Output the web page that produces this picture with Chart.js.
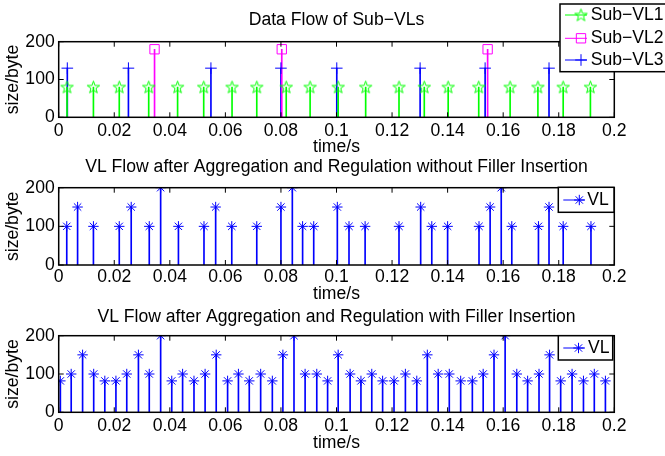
<!DOCTYPE html>
<html>
<head>
<meta charset="utf-8">
<script src="https://cdn.jsdelivr.net/npm/chart.js@4.4.1/dist/chart.umd.min.js"></script>
<style>
  html, body { margin: 0; padding: 0; background: #fff; }
  #wrap { position: relative; width: 665px; height: 456px; }
  #wrap canvas { position: absolute; left: 0; top: 0; }
</style>
</head>
<body>
<div id="wrap">
  <canvas id="c1" width="665" height="456"></canvas>
  <canvas id="c2" width="665" height="456"></canvas>
  <canvas id="c3" width="665" height="456"></canvas>
</div>
<script>
const xTicks = [0, 0.02, 0.04, 0.06, 0.08, 0.1, 0.12, 0.14, 0.16, 0.18, 0.2];
const xTickLabels = ["0", "0.02", "0.04", "0.06", "0.08", "0.1", "0.12", "0.14", "0.16", "0.18", "0.2"];
const yTicks = [0, 100, 200];

// top panel: the three sub-VLs (time in s, size in byte)
const subVL1Time = [0.003, 0.0125, 0.0218, 0.0324, 0.0428, 0.0522, 0.0624, 0.0713, 0.0819, 0.0905,
                    0.1006, 0.1105, 0.1225, 0.1316, 0.1402, 0.1512, 0.1625, 0.1725, 0.1816, 0.1914];
const subVL1Size = [80, 80, 80, 80, 80, 80, 80, 80, 80, 80, 80, 80, 80, 80, 80, 80, 80, 80, 80, 80];
const subVL2Time = [0.0345, 0.0803, 0.1544];
const subVL2Size = [180, 180, 180];
const subVL3Time = [0.0031, 0.0251, 0.0548, 0.080, 0.1001, 0.1301, 0.1535, 0.1765];
const subVL3Size = [130, 130, 130, 130, 130, 130, 130, 130];

// middle panel: aggregated VL without filler
const aggTime = [0.0029, 0.0068, 0.0125, 0.0218, 0.0261, 0.0326, 0.0367, 0.0431, 0.0523, 0.0565,
                 0.0623, 0.0713, 0.0800, 0.0841, 0.0878, 0.0918, 0.1003, 0.1045, 0.1103, 0.1225,
                 0.1303, 0.1343, 0.1400, 0.1513, 0.1553, 0.1593, 0.1631, 0.1727, 0.1765, 0.1816, 0.1916];
const aggSize = [100, 150, 100, 100, 150, 100, 200, 100, 100, 150,
                 100, 100, 150, 200, 100, 100, 150, 100, 100, 100,
                 150, 100, 100, 100, 150, 200, 100, 100, 150, 100, 100];

// bottom panel: aggregated VL with filler
const fillTime = [0.0006, 0.0045, 0.0086, 0.0126, 0.0166, 0.0206, 0.0245, 0.0287, 0.0326, 0.0367,
                  0.0407, 0.0446, 0.0487, 0.0527, 0.0567, 0.0608, 0.0647, 0.0686, 0.0727, 0.0769,
                  0.0807, 0.0847, 0.0887, 0.0929, 0.0968, 0.1006, 0.1049, 0.1088, 0.1127, 0.1166,
                  0.1207, 0.1248, 0.1289, 0.1327, 0.1366, 0.1406, 0.1447, 0.1489, 0.1528, 0.1567,
                  0.1607, 0.1649, 0.1688, 0.1729, 0.1767, 0.1807, 0.1848, 0.1889, 0.1928, 0.1968];
const fillSize = [82, 100, 150, 100, 82, 82, 100, 150, 100, 200,
                  82, 100, 82, 100, 150, 82, 100, 82, 100, 82,
                  150, 200, 100, 100, 82, 150, 100, 82, 100, 82,
                  82, 100, 82, 150, 100, 100, 82, 82, 100, 150,
                  200, 100, 82, 100, 150, 82, 100, 82, 100, 82];

const FONT = "'Liberation Sans', Arial, Helvetica, sans-serif";
const FS = 17.6;
Chart.defaults.font.family = FONT;
Chart.defaults.font.size = FS;
Chart.defaults.color = "#000";

function pts(t, v) {
  return t.map((x, i) => ({ x: x, y: v[i] }));
}

// hollow pentagram, matlab 'p' marker
function pentagram(color) {
  const c = document.createElement("canvas");
  c.width = 15; c.height = 15;
  const g = c.getContext("2d");
  g.strokeStyle = color;
  g.lineWidth = 1;
  g.beginPath();
  for (let i = 0; i < 10; i++) {
    const r = i % 2 ? 2.6 : 6.5;
    const a = -Math.PI / 2 + i * Math.PI / 5;
    const px = 7.5 + r * Math.cos(a), py = 8 + r * Math.sin(a);
    if (i) g.lineTo(px, py); else g.moveTo(px, py);
  }
  g.closePath();
  g.stroke();
  return c;
}

function stems(t, v, color) {
  return { type: "bar", data: pts(t, v), backgroundColor: color, borderWidth: 0,
           barThickness: 1, grouped: false, order: 2 };
}
function marks(label, t, v, color, style, r) {
  return { type: "scatter", label: label, data: pts(t, v), showLine: false, order: 1,
           pointStyle: style, pointRadius: r, pointBorderColor: color,
           pointBackgroundColor: "rgba(0,0,0,0)", pointBorderWidth: 1 };
}

// axes box with inward ticks
const boxPlugin = {
  id: "matBox",
  afterDatasetsDraw(chart) {
    const { ctx, chartArea: a, scales } = chart;
    ctx.save();
    ctx.strokeStyle = "#000";
    ctx.lineWidth = 1;
    ctx.beginPath();
    xTicks.forEach(v => {
      const px = scales.x.getPixelForValue(v);
      ctx.moveTo(px, a.bottom); ctx.lineTo(px, a.bottom - 5);
      ctx.moveTo(px, a.top); ctx.lineTo(px, a.top + 5);
    });
    yTicks.forEach(v => {
      const py = scales.y.getPixelForValue(v);
      ctx.moveTo(a.left, py); ctx.lineTo(a.left + 5, py);
      ctx.moveTo(a.right, py); ctx.lineTo(a.right - 5, py);
    });
    ctx.stroke();
    ctx.lineWidth = 1.5;
    ctx.strokeRect(a.left, a.top, a.right - a.left, a.bottom - a.top);
    ctx.restore();
  }
};

const legendPlugin = {
  id: "matLegend",
  afterDraw(chart, args, opts) {
    if (!opts.box) return;
    const ctx = chart.ctx;
    const [l, t, r, b] = opts.box;
    ctx.save();
    ctx.fillStyle = "#fff";
    ctx.fillRect(l, t, r - l, b - t);
    ctx.strokeStyle = "#000";
    ctx.lineWidth = 1.5;
    ctx.strokeRect(l, t, r - l, b - t);
    ctx.font = FS + "px " + FONT;
    ctx.textBaseline = "middle";
    opts.rows.forEach(row => {
      const ds = chart.data.datasets[row.dataset];
      ctx.strokeStyle = ds.pointBorderColor;
      ctx.lineWidth = 1;
      ctx.beginPath();
      ctx.moveTo(opts.lineX[0], row.y);
      ctx.lineTo(opts.lineX[1], row.y);
      ctx.stroke();
      ctx.fillStyle = "rgba(0,0,0,0)";
      Chart.helpers.drawPoint(ctx, { pointStyle: ds.pointStyle, radius: ds.pointRadius,
        borderWidth: 1, rotation: 0 }, opts.markerX, row.y);
      ctx.fillStyle = "#000";
      ctx.fillText(ds.label, opts.textX, row.y);
    });
    ctx.restore();
  }
};

function panel(id, datasets, p) {
  return new Chart(document.getElementById(id), {
    type: "scatter",
    data: { datasets: datasets },
    options: {
      responsive: false,
      animation: false,
      events: [],
      layout: { padding: { left: 0, right: 50.7, top: p.top, bottom: p.bottom } },
      plugins: {
        legend: { display: false },
        tooltip: { enabled: false },
        matLegend: p.legend
      },
      scales: {
        // top axis only carries the panel title, centred over the axes box
        xTop: {
          type: "linear", position: "top", min: 0, max: 0.2, offset: false,
          grid: { display: false, drawTicks: false },
          border: { display: false },
          ticks: { display: false },
          afterFit: s => { s.height = p.topH; },
          title: { display: true, text: p.title, font: { size: FS },
                   padding: { top: p.tTop, bottom: 0 } }
        },
        x: {
          type: "linear", min: 0, max: 0.2, offset: false,
          grid: { display: false, drawTicks: false, offset: false },
          border: { display: false },
          afterBuildTicks: s => { s.ticks = xTicks.map(v => ({ value: v })); },
          afterFit: s => { s.height = p.xH; },
          ticks: { autoSkip: false, maxRotation: 0, padding: p.tickPad, font: { size: FS },
                   callback: (v, i) => xTickLabels[i] },
          title: { display: true, text: "time/s", font: { size: FS }, padding: 0 }
        },
        y: {
          min: 0, max: 200,
          grid: { display: false, drawTicks: false },
          border: { display: false },
          afterBuildTicks: s => { s.ticks = yTicks.map(v => ({ value: v })); },
          afterFit: s => { s.width = 58.7; },
          ticks: { padding: 4, font: { size: FS } },
          title: { display: true, text: "size/byte", font: { size: FS },
                   padding: { top: 3, bottom: 0 } }
        }
      }
    },
    plugins: [boxPlugin, legendPlugin]
  });
}

panel("c1", [
  stems(subVL1Time, subVL1Size, "#00ff00"),
  stems(subVL2Time, subVL2Size, "#ff00ff"),
  stems(subVL3Time, subVL3Size, "#0000ff"),
  marks("Sub\u2212VL1", subVL1Time, subVL1Size, "#00ff00", pentagram("#00ff00"), 6),
  marks("Sub\u2212VL2", subVL2Time, subVL2Size, "#ff00ff", "rect", 6.6),
  marks("Sub\u2212VL3", subVL3Time, subVL3Size, "#0000ff", "cross", 5.8)
], {
  title: "Data Flow of Sub\u2212VLs", top: 0, topH: 41.7, tTop: 10, bottom: 298.7, xH: 40, tickPad: 3.5,
  legend: { box: [560, 4, 668, 71.7], lineX: [565, 587], markerX: 581, textX: 590.7,
            rows: [{ dataset: 3, y: 15 }, { dataset: 4, y: 38.3 }, { dataset: 5, y: 60 }] }
});

panel("c2", [
  stems(aggTime, aggSize, "#0000ff"),
  marks("VL", aggTime, aggSize, "#0000ff", "star", 5.2)
], {
  title: "VL Flow after Aggregation and Regulation without Filler Insertion",
  top: 150, topH: 37.7, tTop: 7, bottom: 151, xH: 40, tickPad: 2,
  legend: { box: [558.3, 187.3, 614, 212.3], lineX: [563.3, 585], markerX: 579.3, textX: 587.3,
            rows: [{ dataset: 1, y: 200 }] }
});

panel("c3", [
  stems(fillTime, fillSize, "#0000ff"),
  marks("VL", fillTime, fillSize, "#0000ff", "star", 5.2)
], {
  title: "VL Flow after Aggregation and Regulation with Filler Insertion",
  top: 300, topH: 35.7, tTop: 6.2, bottom: 2.5, xH: 41.2, tickPad: 3,
  legend: { box: [558.3, 335.7, 612.7, 360], lineX: [563.3, 585], markerX: 578.5, textX: 588,
            rows: [{ dataset: 1, y: 348 }] }
});
</script>
</body>
</html>
